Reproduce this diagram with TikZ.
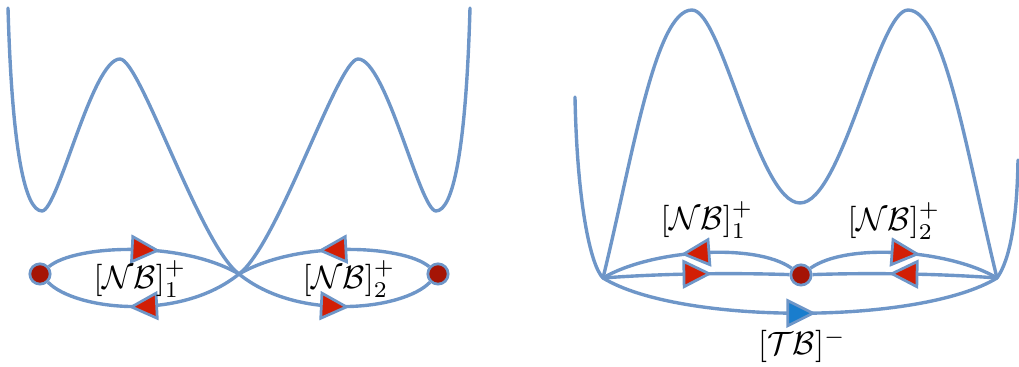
\documentclass[tikz,border=0pt]{standalone}
\usetikzlibrary{decorations.markings}
\definecolor{lineblue}{RGB}{110,150,200}
\definecolor{dotred}{RGB}{165,20,5}
\definecolor{arrowred}{RGB}{210,30,5}
\definecolor{tbblue}{RGB}{25,125,205}
\tikzset{
  pot/.style={draw=lineblue, line width=1.05pt, line join=round, line cap=round},
  arcline/.style={draw=lineblue, line width=1.05pt},
  tri/.style={draw=lineblue, line width=0.85pt, line join=miter},
  redarrow/.style={postaction={decorate, decoration={markings,
      mark=at position 0.5 with {\path[tri, fill=arrowred] (4pt,0pt) -- (-3.8pt,3.9pt) -- (-3.8pt,-3.9pt) -- cycle;}}}},
  bluearrow/.style={postaction={decorate, decoration={markings,
      mark=at position 0.5 with {\path[tri, fill=tbblue] (4pt,0pt) -- (-3.8pt,3.9pt) -- (-3.8pt,-3.9pt) -- cycle;}}}},
  dotnode/.style={circle, draw=lineblue, fill=dotred, line width=0.85pt, minimum size=6.3pt, inner sep=0pt},
  lbl/.style={inner sep=0pt}
}
\begin{document}
\begin{tikzpicture}[x=0.31pt, y=-0.31pt]
\useasboundingbox (0,0) rectangle (1019,367);

% ---------- left panel ----------
\draw[pot] (8,8) .. controls (12,150) and (25,211) .. (42,211)
  .. controls (58,211) and (92,59) .. (120,59)
  .. controls (140,59) and (200,245) .. (239,274)
  .. controls (278,245) and (338,59) .. (358,59)
  .. controls (386,59) and (420,211) .. (436,211)
  .. controls (453,211) and (466,150) .. (470,8);

\coordinate (c1) at (239,274);
\node[dotnode] (d1) at (40,274) {};
\node[dotnode] (d2) at (438,274) {};

\draw[arcline, redarrow] (d1) .. controls (75,245) and (180,240) .. (c1);
\draw[arcline, redarrow] (c1) .. controls (180,322) and (75,310) .. (d1);
\draw[arcline, redarrow] (d2) .. controls (403,245) and (298,240) .. (c1);
\draw[arcline, redarrow] (c1) .. controls (298,322) and (403,310) .. (d2);

\node[lbl] (l1) at (140,279) {$[\mathcal{N}\mathcal{B}]_1^+$};
\node[lbl] (l2) at (349,279) {$[\mathcal{N}\mathcal{B}]_2^+$};

% ---------- right panel ----------
\draw[pot] (575,97) .. controls (577,200) and (590,265) .. (603,278);
\draw[pot] (603,278) .. controls (632,160) and (655,10) .. (692,10)
  .. controls (722,10) and (758,203) .. (800,203)
  .. controls (842,203) and (878,10) .. (908,10)
  .. controls (945,10) and (968,160) .. (997,278);
\draw[pot] (997,278) .. controls (1010,260) and (1017,220) .. (1018,160);

\coordinate (A) at (603,278);
\coordinate (B) at (997,278);
\node[dotnode] (d3) at (801,275) {};

\draw[arcline, redarrow] (d3) .. controls (755,242) and (650,250) .. (A);
\draw[arcline, redarrow] (A) .. controls (670,273) and (740,273) .. (d3);
\draw[arcline, redarrow] (d3) .. controls (847,242) and (950,250) .. (B);
\draw[arcline, redarrow] (B) .. controls (930,273) and (860,273) .. (d3);
\draw[arcline, bluearrow] (A) .. controls (680,325) and (920,325) .. (B);

\node[lbl] (l3) at (707,220) {$[\mathcal{N}\mathcal{B}]_1^+$};
\node[lbl] (l4) at (894,221) {$[\mathcal{N}\mathcal{B}]_2^+$};
\node[lbl] (l5) at (802,346) {$[\mathcal{T}\mathcal{B}]^-$};
\end{tikzpicture}
\end{document}
